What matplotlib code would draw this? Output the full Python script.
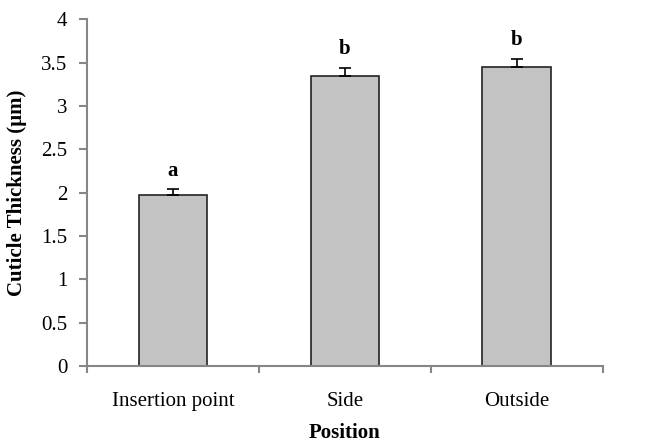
import matplotlib
matplotlib.use("Agg")
import matplotlib.pyplot as plt

positions = ["Insertion point", "Side", "Outside"]
thickness = [1.97, 3.35, 3.45]
err = [0.07, 0.09, 0.095]
letters = ["a", "b", "b"]

plt.rcParams['font.family'] = ['Liberation Serif', 'DejaVu Serif']

fig = plt.figure(figsize=(6.56, 4.41), dpi=100)
ax = fig.add_axes([0.1326, 0.170, 0.919 - 0.1326, 0.9558 - 0.170])

x = list(range(len(positions)))
ax.bar(x, thickness, width=0.4, color="#c3c3c3", edgecolor="#222222", linewidth=1.2, zorder=2)
ax.errorbar(x, thickness, yerr=[[0] * len(err), err], fmt="none", ecolor="black",
            elinewidth=1.2, capsize=4, capthick=1.2, zorder=3)
for xi, t, e, l in zip(x, thickness, err, letters):
    ax.text(xi, t + e + 0.1, l, ha="center", va="bottom", fontsize=15, fontweight="bold")

ax.set_xlim(-0.5, 2.5)
ax.set_ylim(0, 4)
ax.set_yticks([0, 0.5, 1, 1.5, 2, 2.5, 3, 3.5, 4])
ax.set_yticklabels(["0", "0.5", "1", "1.5", "2", "2.5", "3", "3.5", "4"])
ax.set_xticks(x)
ax.set_xticklabels(positions)
ax.set_xticks([-0.5, 0.5, 1.5, 2.5], minor=True)
ax.tick_params(axis="x", which="major", length=0, pad=19, labelsize=15)
ax.tick_params(axis="x", which="minor", length=5, width=1.5, color="#868686")
ax.tick_params(axis="y", length=6, width=1.5, color="#868686", labelsize=15, pad=8)

for s in ["top", "right"]:
    ax.spines[s].set_visible(False)
for s in ["left", "bottom"]:
    ax.spines[s].set_color("#868686")
    ax.spines[s].set_linewidth(1.5)

ax.set_ylabel("Cuticle Thickness (\u00b5m)", fontsize=15, fontweight="bold", labelpad=10)
ax.set_xlabel("Position", fontsize=15, fontweight="bold", labelpad=8)

fig.savefig("out.png", dpi=100)
